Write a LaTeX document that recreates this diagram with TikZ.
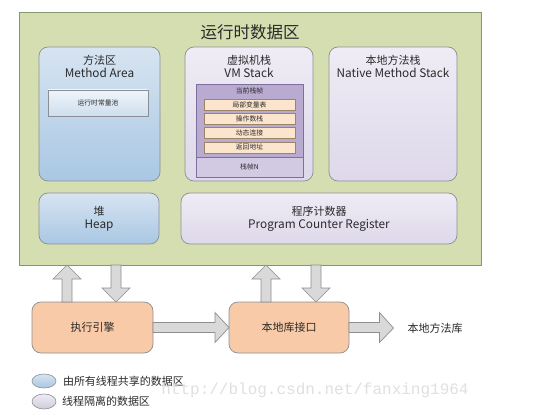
\documentclass[tikz,border=0pt]{standalone}
\usepackage{fontspec}
\setmainfont{Noto Sans CJK SC}
\newfontfamily\wmfont{Liberation Mono}
\usetikzlibrary{calc,shapes.geometric}
\definecolor{green1}{HTML}{D5DEB1}
\definecolor{greenline}{HTML}{86956A}
\definecolor{blueT}{HTML}{D7E4F1}
\definecolor{blueB}{HTML}{A9C7E3}
\definecolor{purT}{HTML}{EFECF5}
\definecolor{purB}{HTML}{DED8EA}
\definecolor{boxline}{HTML}{8A8F96}
\definecolor{orangeF}{HTML}{F8CAA7}
\definecolor{frameL}{HTML}{D2CAE2}
\definecolor{frameD}{HTML}{B9AAD0}
\definecolor{frameline}{HTML}{7E6F9C}
\definecolor{itemF}{HTML}{FCE5CD}
\definecolor{itemline}{HTML}{9C8468}
\definecolor{arrowF}{HTML}{D9D9D9}
\definecolor{arrowL}{HTML}{8E8E8E}
\definecolor{txt}{HTML}{2A2A2A}
\newcommand{\latn}{\fontsize{11.8}{13}\selectfont}
\newcommand{\varrow}[2]{%
  \draw[barrow] let \p1=(#1), \p2=(#2), \n1={sign(\y2-\y1)*14} in
    (\x1-5pt,\y1) -- (\x1-5pt,\y2-\n1) -- (\x1-14pt,\y2-\n1) -- (\x2,\y2)
    -- (\x1+14pt,\y2-\n1) -- (\x1+5pt,\y2-\n1) -- (\x1+5pt,\y1) -- cycle;}
\newcommand{\harrow}[2]{%
  \draw[barrow] let \p1=(#1), \p2=(#2), \n1={sign(\x2-\x1)*14} in
    (\x1,\y1-5pt) -- (\x2-\n1,\y1-5pt) -- (\x2-\n1,\y1-15pt) -- (\x2,\y2)
    -- (\x2-\n1,\y1+15pt) -- (\x2-\n1,\y1+5pt) -- (\x1,\y1+5pt) -- cycle;}
\begin{document}
\begin{tikzpicture}[x=1pt,y=-1pt,
  every node/.style={inner sep=0pt, outer sep=0pt, text=txt},
  base/.style={draw=boxline, line width=0.7pt, rounded corners=9pt},
  shared/.style={base, top color=blueT, bottom color=blueB},
  priv/.style={base, top color=purT, bottom color=purB},
  engine/.style={base, fill=orangeF},
  label/.style={align=center, font=\fontsize{11}{13}\selectfont},
  small/.style={font=\fontsize{6.8}{8}\selectfont},
  item/.style={draw=itemline, line width=0.5pt, fill=itemF, minimum width=91pt, minimum height=11pt, font=\fontsize{6.8}{8}\selectfont},
  barrow/.style={draw=arrowL, fill=arrowF, line width=0.7pt, line join=miter}]
\useasboundingbox (0,0) rectangle (536,417);
\fill[white] (0,0) rectangle (536,417);
% runtime data area
\node[draw=greenline, fill=green1, line width=0.8pt, minimum width=462pt, minimum height=253pt] (rt) at (250,138.5) {};
\node[font=\fontsize{16.5}{18}\selectfont] (rtt) at (250,32) {运行时数据区};
% method area
\node[shared, minimum width=121pt, minimum height=134pt] (ma) at (99.5,114) {};
\node[label] (mat) at (99.5,66.5) {方法区\\{\latn Method Area}};
\node[draw=boxline, line width=0.6pt, top color=white!60!blueT, bottom color=blueT!80!blueB, minimum width=100pt, minimum height=26pt, small] (pool) at (98,103) {运行时常量池};
% VM stack
\node[priv, minimum width=128pt, minimum height=134pt] (vm) at (249,114) {};
\node[label] (vmt) at (249,66.5) {虚拟机栈\\{\latn VM Stack}};
\node[draw=frameline, line width=0.6pt, fill=frameL, minimum width=107pt, minimum height=93pt] (frame) at (249.5,130.5) {};
\node[draw=frameline, line width=0.6pt, fill=frameD, minimum width=107pt, minimum height=73pt] (cur) at (249.5,120.5) {};
\node[small] (curt) at (249.5,91) {当前栈帧};
\node[item] (i1) at (249.5,104.5) {局部变量表};
\node[item] (i2) at (249.5,118.8) {操作数栈};
\node[item] (i3) at (249.5,133.1) {动态连接};
\node[item] (i4) at (249.5,147.4) {返回地址};
\node[small] (fn) at (249.5,167) {栈帧N};
% native method stack
\node[priv, minimum width=128pt, minimum height=134pt] (nm) at (393,114) {};
\node[label] (nmt) at (393,66.5) {本地方法栈\\{\latn Native Method Stack}};
% heap and pc
\node[shared, label, minimum width=120pt, minimum height=51pt] (heap) at (99,218.5) {堆\\{\latn Heap}};
\node[priv, label, minimum width=276pt, minimum height=51pt] (pc) at (319,218.5) {程序计数器\\{\latn Program Counter Register}};
% bottom
\node[engine, label, minimum width=121pt, minimum height=51pt] (exec) at (92.5,327.5) {执行引擎};
\node[engine, label, minimum width=120pt, minimum height=51pt] (nif) at (289,327.5) {本地库接口};
\node[label, inner xsep=14pt] (lib) at (435,328) {本地方法库};
% arrow end points
\coordinate (e1) at ($(exec.north west)+(35,0)$);
\coordinate (e2) at ($(exec.north west)+(84,0)$);
\coordinate (n1) at ($(nif.north west)+(37,0)$);
\coordinate (n2) at ($(nif.north west)+(87,0)$);
\coordinate (o1) at (rt.south -| e1);
\coordinate (o2) at (rt.south -| e2);
\coordinate (o3) at (rt.south -| n1);
\coordinate (o4) at (rt.south -| n2);
\varrow{e1}{o1}
\varrow{o2}{e2}
\varrow{n1}{o3}
\varrow{o4}{n2}
\harrow{exec.east}{nif.west}
\harrow{nif.east}{lib.west}
% legend
\node[draw=boxline, line width=0.6pt, ellipse, top color=blueT, bottom color=blueB, minimum width=24pt, minimum height=14pt] (lg1) at (44,381) {};
\node[label, anchor=west] (lg1t) at (63,381) {由所有线程共享的数据区};
\node[draw=boxline, line width=0.6pt, ellipse, top color=purT, bottom color=purB!85!gray, minimum width=24pt, minimum height=15pt] (lg2) at (44,401.5) {};
\node[label, anchor=west] (lg2t) at (62,401.5) {线程隔离的数据区};
% watermark
\node[font=\wmfont\fontsize{16}{18}\selectfont, text=black!12] (wm) at (315,390) {http://blog.csdn.net/fanxing1964};
\end{tikzpicture}
\end{document}
